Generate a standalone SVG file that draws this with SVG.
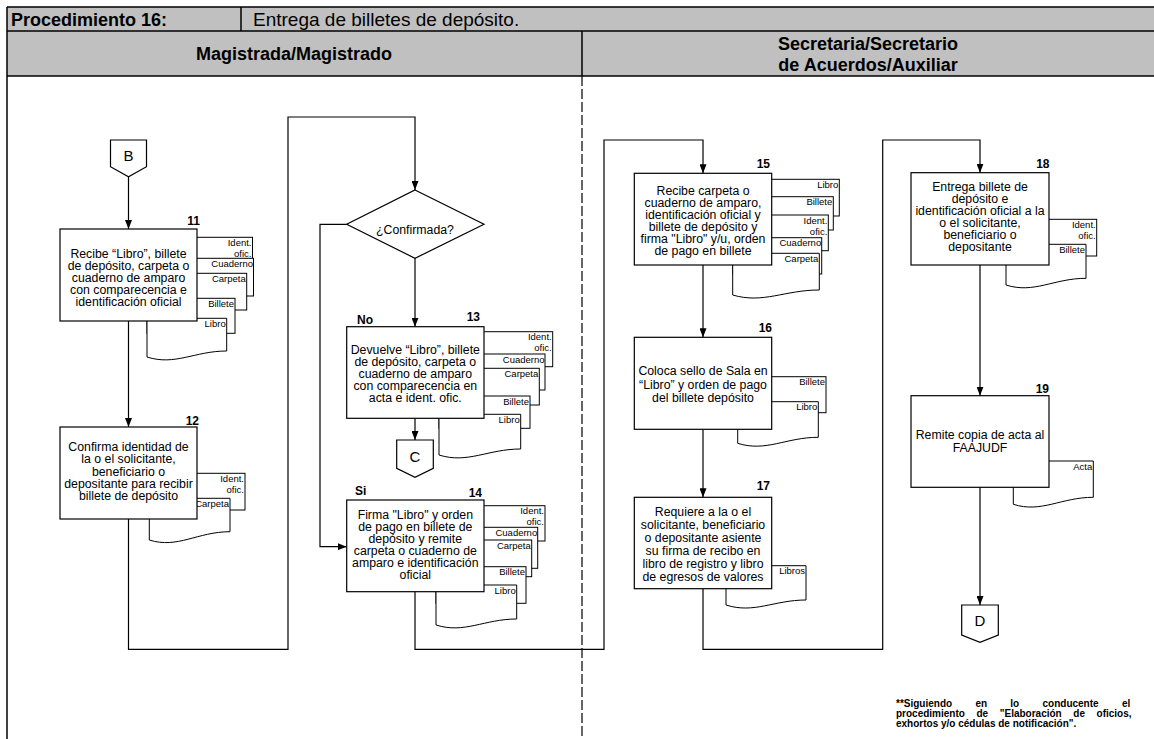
<svg xmlns="http://www.w3.org/2000/svg" width="1154" height="739" viewBox="0 0 1154 739">
<style>
text{font-family:"Liberation Sans",Arial,sans-serif;fill:#000}
.hd{font-size:18px;font-weight:bold}
.hr{font-size:19px}
.t{font-size:12.3px;text-anchor:middle}
.n{font-size:12px;font-weight:bold}
.ne{font-size:12px;font-weight:bold;text-anchor:end}
.dl{font-size:9.5px;text-anchor:end}
.lt{font-size:15px;text-anchor:middle}
.fn{font-size:10px;font-weight:bold}
.box{fill:#fff;stroke:#000;stroke-width:1.2}
.doc{fill:#fff;stroke:#000;stroke-width:1}
.c{fill:none;stroke:#000;stroke-width:1.2;marker-end:url(#ah)}
</style>
<defs>
<marker id="ah" viewBox="0 0 9 7" refX="9" refY="3.5" markerWidth="9" markerHeight="7" markerUnits="userSpaceOnUse" orient="auto"><path d="M0,0 L9,3.5 L0,7 Z" fill="#000"/></marker>
</defs>
<rect x="0" y="0" width="1154" height="739" fill="#fff"/>
<g id="header">
<rect x="7" y="7" width="1147" height="69" fill="#c0c0c0"/>
<path d="M7,7 H1154 M7,31 H1154 M7,76 H1154 M241,7 V31 M582,31 V76" fill="none" stroke="#000" stroke-width="1.5"/>
<path d="M7,7 V739" fill="none" stroke="#000" stroke-width="1.5"/>
<path d="M582,76 V739" fill="none" stroke="#000" stroke-width="1.2" stroke-dasharray="10 3"/>
<text class="hd" x="11" y="26">Procedimiento 16:</text>
<text class="hr" x="253" y="26">Entrega de billetes de depósito.</text>
<text class="hd" x="294" y="60" text-anchor="middle">Magistrada/Magistrado</text>
<text class="hd" x="868" y="50" text-anchor="middle">Secretaria/Secretario</text>
<text class="hd" x="868" y="71" text-anchor="middle">de Acuerdos/Auxiliar</text>
</g>
<g id="connectors">
<path class="c" d="M128.5,176.7 V229"/>
<path class="c" d="M128.5,321 V427"/>
<path class="c" d="M128.5,519 V649.3 H288 V117 H415 V190"/>
<path class="c" d="M415,258.3 V326.7"/>
<path class="c" d="M346.7,224.3 H320 V546.7 H346.7"/>
<path class="c" d="M415,418.3 V440"/>
<path class="c" d="M415,591.7 V649.3 H604 V140 H703 V173.3"/>
<path class="c" d="M703,265 V337.3"/>
<path class="c" d="M703,429.3 V497.3"/>
<path class="c" d="M703,588.7 V649.3 H882.7 V140 H980 V172.7"/>
<path class="c" d="M980,265 V395.7"/>
<path class="c" d="M980,487.3 V605"/>
</g>
<g id="conB">
<path class="box" d="M110.5,140 H146.5 V166.7 L128.5,176.7 L110.5,166.7 Z"/>
<text class="lt" x="128.5" y="160.5">B</text>
</g>
<g id="node11">
<rect class="doc" x="147" y="237.3" width="105.5" height="36"/>
<text class="dl" x="251.5" y="245.8">Ident.</text>
<text class="dl" x="251.5" y="256.5">ofic.</text>
<rect class="doc" x="147" y="258.3" width="106.5" height="37.7"/>
<text class="dl" x="253" y="267">Cuaderno</text>
<rect class="doc" x="147" y="273.3" width="99.7" height="36.7"/>
<text class="dl" x="245.7" y="282">Carpeta</text>
<rect class="doc" x="147" y="298.3" width="88" height="35"/>
<text class="dl" x="234" y="307">Billete</text>
<path class="doc" d="M147,318.3 H226.7 V351 C194.8,351 174.9,366 147,357 Z"/>
<text class="dl" x="225.7" y="327">Libro</text>
<rect class="box" x="60" y="229" width="137" height="92"/>
<text class="ne" x="200" y="224.5">11</text>
<text class="t" x="128.5" y="257.5">Recibe “Libro”, billete</text>
<text class="t" x="128.5" y="269.5">de depósito, carpeta o</text>
<text class="t" x="128.5" y="281.5">cuaderno de amparo</text>
<text class="t" x="128.5" y="293.5">con comparecencia e</text>
<text class="t" x="128.5" y="305.5">identificación oficial</text>
</g>
<g id="node12">
<rect class="doc" x="149.3" y="473.3" width="95.7" height="36.7"/>
<text class="dl" x="244" y="481.8">Ident.</text>
<text class="dl" x="244" y="492.5">ofic.</text>
<path class="doc" d="M149.3,498.3 H230 V531.7 C197.7,531.7 177.5,549 149.3,540 Z"/>
<text class="dl" x="229" y="507">Carpeta</text>
<rect class="box" x="60" y="427" width="137" height="92"/>
<text class="ne" x="199" y="424.5">12</text>
<text class="t" x="128.5" y="451">Confirma identidad de</text>
<text class="t" x="128.5" y="463.3">la o el solicitante,</text>
<text class="t" x="128.5" y="475.5">beneficiario o</text>
<text class="t" x="128.5" y="487.8">depositante para recibir</text>
<text class="t" x="128.5" y="500">billete de depósito</text>
</g>
<g id="decision">
<polygon class="box" points="415,190 484,224.3 415,258.3 346.7,224.3"/>
<text class="t" x="415" y="233.5">¿Confirmada?</text>
</g>
<g id="node13">
<rect class="doc" x="439" y="331.7" width="113.7" height="35"/>
<text class="dl" x="551.7" y="339.7">Ident.</text>
<text class="dl" x="551.7" y="351.2">ofic.</text>
<rect class="doc" x="439" y="354" width="106" height="36"/>
<text class="dl" x="544.5" y="362.5">Cuaderno</text>
<rect class="doc" x="439" y="368.3" width="100.3" height="36.7"/>
<text class="dl" x="538.3" y="377">Carpeta</text>
<rect class="doc" x="439" y="396" width="91" height="32.3"/>
<text class="dl" x="529" y="405">Billete</text>
<path class="doc" d="M439,414.3 H520.7 V449 C488,449 467.6,464 439,455 Z"/>
<text class="dl" x="519.7" y="423">Libro</text>
<rect class="box" x="346.7" y="326.7" width="137.3" height="91.6"/>
<text class="n" x="357" y="323.8">No</text>
<text class="ne" x="480" y="321">13</text>
<text class="t" x="415.3" y="353.8">Devuelve “Libro”, billete</text>
<text class="t" x="415.3" y="365.8">de depósito, carpeta o</text>
<text class="t" x="415.3" y="377.8">cuaderno de amparo</text>
<text class="t" x="415.3" y="389.8">con comparecencia en</text>
<text class="t" x="415.3" y="401.8">acta e ident. ofic.</text>
</g>
<g id="conC">
<path class="box" d="M396.7,440 H433.3 V468.3 L415,477.3 L396.7,468.3 Z"/>
<text class="lt" x="415" y="461.5">C</text>
</g>
<g id="node14">
<rect class="doc" x="436" y="505.7" width="109" height="35.3"/>
<text class="dl" x="544" y="514.2">Ident.</text>
<text class="dl" x="544" y="525.2">ofic.</text>
<rect class="doc" x="436" y="527.3" width="101.7" height="41"/>
<text class="dl" x="537.2" y="535.8">Cuaderno</text>
<rect class="doc" x="436" y="540" width="95.7" height="36.7"/>
<text class="dl" x="530.7" y="548.5">Carpeta</text>
<rect class="doc" x="436" y="566.7" width="90" height="36.6"/>
<text class="dl" x="525" y="575.2">Billete</text>
<path class="doc" d="M436,585 H516.7 V619 C484.4,619 464.2,634 436,625 Z"/>
<text class="dl" x="515.7" y="593.5">Libro</text>
<rect class="box" x="346.7" y="500" width="137.3" height="91.7"/>
<text class="n" x="355" y="494.5">Si</text>
<text class="ne" x="482" y="496.8">14</text>
<text class="t" x="415.3" y="519.3">Firma "Libro" y orden</text>
<text class="t" x="415.3" y="531.3">de pago en billete de</text>
<text class="t" x="415.3" y="543.3">depósito y remite</text>
<text class="t" x="415.3" y="555.3">carpeta o cuaderno de</text>
<text class="t" x="415.3" y="567.3">amparo e identificación</text>
<text class="t" x="415.3" y="579.3">oficial</text>
</g>
<g id="node15">
<rect class="doc" x="732.7" y="179.3" width="106.6" height="36.7"/>
<text class="dl" x="838.3" y="187.8">Libro</text>
<rect class="doc" x="732.7" y="196.7" width="100.6" height="33.3"/>
<text class="dl" x="832.3" y="205.2">Billete</text>
<rect class="doc" x="732.7" y="215" width="95.6" height="35.7"/>
<text class="dl" x="827.3" y="223.5">Ident.</text>
<text class="dl" x="827.3" y="234.5">ofic.</text>
<rect class="doc" x="732.7" y="237.7" width="89" height="36.3"/>
<text class="dl" x="821.2" y="246.2">Cuaderno</text>
<path class="doc" d="M732.7,253.3 H819.3 V290 C784.7,290 763,304 732.7,295 Z"/>
<text class="dl" x="818.3" y="261.8">Carpeta</text>
<rect class="box" x="634.3" y="173.3" width="137.4" height="91.7"/>
<text class="ne" x="770" y="168">15</text>
<text class="t" x="703" y="194.6">Recibe carpeta o</text>
<text class="t" x="703" y="206.6">cuaderno de amparo,</text>
<text class="t" x="703" y="218.6">identificación oficial y</text>
<text class="t" x="703" y="230.6">billete de depósito y</text>
<text class="t" x="703" y="242.6">firma "Libro" y/u, orden</text>
<text class="t" x="703" y="254.6">de pago en billete</text>
</g>
<g id="node16">
<rect class="doc" x="737.7" y="376.7" width="88.3" height="36"/>
<text class="dl" x="825" y="385.2">Billete</text>
<path class="doc" d="M737.7,401.7 H818.3 V437.3 C786.1,437.3 765.9,452.3 737.7,443.3 Z"/>
<text class="dl" x="817.3" y="410.2">Libro</text>
<rect class="box" x="634.3" y="337.3" width="137.4" height="92"/>
<text class="ne" x="772" y="332">16</text>
<text class="t" x="703" y="375">Coloca sello de Sala en</text>
<text class="t" x="703" y="388.5">“Libro” y orden de pago</text>
<text class="t" x="703" y="402">del billete depósito</text>
</g>
<g id="node17">
<path class="doc" d="M726,565.7 H806 V600 C774,600 754,614 726,605 Z"/>
<text class="dl" x="805" y="574.2">Libros</text>
<rect class="box" x="634.3" y="497.3" width="137.4" height="91.4"/>
<text class="ne" x="770" y="490">17</text>
<text class="t" x="703" y="516">Requiere a la o el</text>
<text class="t" x="703" y="529">solicitante, beneficiario</text>
<text class="t" x="703" y="542">o depositante asiente</text>
<text class="t" x="703" y="555">su firma de recibo en</text>
<text class="t" x="703" y="568">libro de registro y libro</text>
<text class="t" x="703" y="581">de egresos de valores</text>
</g>
<g id="node18">
<rect class="doc" x="1006" y="219.3" width="90.7" height="36.7"/>
<text class="dl" x="1095.7" y="227.8">Ident.</text>
<text class="dl" x="1095.7" y="238.8">ofic.</text>
<path class="doc" d="M1006,244.3 H1086 V278.3 C1054,278.3 1034,294 1006,285 Z"/>
<text class="dl" x="1085" y="252.8">Billete</text>
<rect class="box" x="911" y="172.7" width="138" height="92.3"/>
<text class="ne" x="1049.5" y="168">18</text>
<text class="t" x="980" y="190.8">Entrega billete de</text>
<text class="t" x="980" y="202.8">depósito e</text>
<text class="t" x="980" y="214.8">identificación oficial a la</text>
<text class="t" x="980" y="226.8">o el solicitante,</text>
<text class="t" x="980" y="238.8">beneficiario o</text>
<text class="t" x="980" y="250.8">depositante</text>
</g>
<g id="node19">
<path class="doc" d="M1013.3,461 H1093.3 V497.3 C1061.3,497.3 1041.3,513.3 1013.3,504.3 Z"/>
<text class="dl" x="1092.3" y="469.5">Acta</text>
<rect class="box" x="911" y="395.7" width="138" height="91.6"/>
<text class="ne" x="1049" y="393">19</text>
<text class="t" x="980" y="439">Remite copia de acta al</text>
<text class="t" x="980" y="451.5">FAAJUDF</text>
</g>
<g id="conD">
<path class="box" d="M961.7,605 H998.3 V635 L980,642.3 L961.7,635 Z"/>
<text class="lt" x="980" y="625.5">D</text>
</g>
<g id="note">
<text class="fn" x="896" y="706.5" word-spacing="20.5">**Siguiendo en lo conducente el</text>
<text class="fn" x="896" y="716.5" word-spacing="8.8">procedimiento de "Elaboración de oficios,</text>
<text class="fn" x="896" y="726.5">exhortos y/o cédulas de notificación".</text>
</g>
</svg>
